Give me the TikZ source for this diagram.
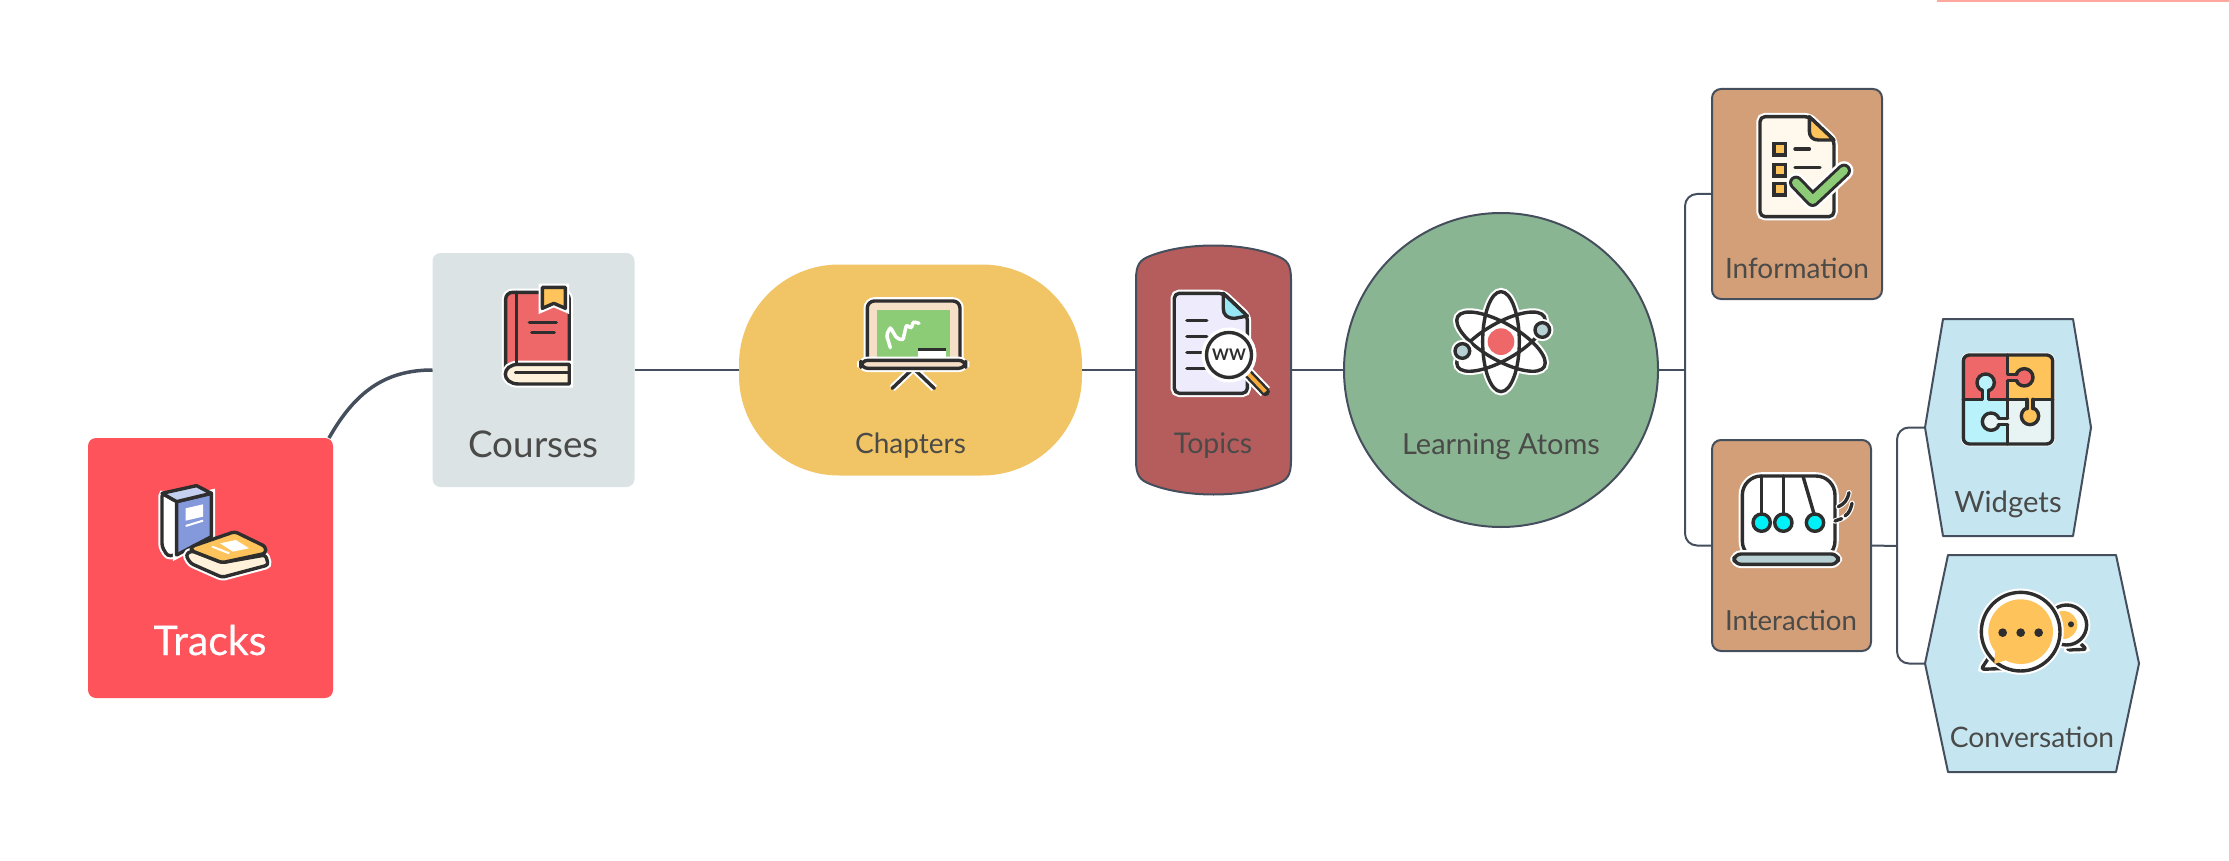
\documentclass[tikz,border=0pt]{standalone}
\usepackage{fontspec}
\setmainfont{Lato}
\newfontfamily\trackfont[FakeBold=0.4]{Lato}

\definecolor{ink}{HTML}{2E2E2E}
\definecolor{linkcol}{HTML}{454E5C}
\definecolor{textcol}{HTML}{4A4A48}
\definecolor{iconred}{HTML}{EE686A}
\definecolor{iconyellow}{HTML}{FEC35A}
\definecolor{iconcream}{HTML}{FFF1DA}
\definecolor{iconteal}{HTML}{B7D0D3}
\definecolor{puzzleblue}{HTML}{B9F2FB}
\definecolor{puzzlepale}{HTML}{E8F4F4}
\definecolor{hexblue}{HTML}{C5E6F1}

\tikzset{
    link/.style={draw=linkcol, line width=2pt},
    box/.style={rectangle, inner sep=0pt, outer sep=0pt},
    hexa/.style={fill=hexblue, draw=linkcol, line width=2pt, line join=round},
    caption/.style={anchor=base, text=textcol, inner sep=0pt, font=\fontsize{#1}{#1}\selectfont},
    icon/.style={draw=ink, line width=3.4pt, line join=round, line cap=round,
        preaction={draw=white, line width=7.5pt}},
    inkline/.style={draw=ink, line width=3.4pt, line join=round, line cap=round},
}

% hexagon around a named box, the slanted sides take #2 of its width
\newcommand{\hexoutline}[2]{
    \draw[hexa] (#1.west) -- ([xshift=#2]#1.north west) -- ([xshift=-#2]#1.north east) -- (#1.east)
        -- ([xshift=-#2]#1.south east) -- ([xshift=#2]#1.south west) -- cycle;
}

% one tab of the puzzle, from its base on the cross to the bulb
\newcommand{\puzzletab}[4]{
    \begin{scope}[shift={(#1,#2)}, rotate=#4]
        \filldraw[inkline, fill=#3] (50,0) circle (26);
        \fill[#3] (-5,-9) rectangle (34,9);
        \draw[inkline] (0,-9) -- (28,-9) (0,9) -- (28,9);
    \end{scope}
}

\begin{document}
\begin{tikzpicture}[x=1pt, y=-1pt]
    \useasboundingbox (0,0) rectangle (2229,861);

    % strip at the top edge
    \fill[fill={rgb,255:red,255;green,168;blue,158}] (1937,0) rectangle (2229,2);

    % boxes
    \node[box, fill={rgb,255:red,255;green,83;blue,92}, rounded corners=8pt, minimum width=245pt, minimum height=260pt] (tracks) at (210.5,568) {};
    \node[box, fill={rgb,255:red,219;green,227;blue,229}, rounded corners=8pt, minimum width=202pt, minimum height=234pt] (courses) at (533.5,370) {};
    \node[box, fill={rgb,255:red,241;green,196;blue,101}, rounded corners=100pt, minimum width=343pt, minimum height=211pt] (chapters) at (910.5,370) {};
    \node[box, minimum width=155pt, minimum height=248pt] (topics) at (1213.5,370) {};
    \draw[link, fill={rgb,255:red,181;green,93;blue,93}] (1136,280) .. controls (1136,264) and (1140,260) .. (1150,256)
        .. controls (1185,242) and (1242,242) .. (1277,256) .. controls (1287,260) and (1291,264) .. (1291,280)
        -- (1291,460) .. controls (1291,476) and (1287,480) .. (1277,484)
        .. controls (1242,498) and (1185,498) .. (1150,484) .. controls (1140,480) and (1136,476) .. (1136,460) -- cycle;
    \node[circle, inner sep=0pt, outer sep=0pt, minimum size=314pt, fill={rgb,255:red,138;green,181;blue,146}, draw=linkcol, line width=2pt] (atoms) at (1501,370) {};
    \node[box, fill={rgb,255:red,211;green,159;blue,120}, draw=linkcol, line width=2pt, rounded corners=9pt, minimum width=170pt, minimum height=210pt] (information) at (1797,194) {};
    \node[box, fill={rgb,255:red,211;green,159;blue,120}, draw=linkcol, line width=2pt, rounded corners=9pt, minimum width=159pt, minimum height=211pt] (interaction) at (1791.5,545.5) {};
    \node[box, minimum width=166pt, minimum height=217pt] (widgets) at (2008,427.5) {};
    \node[box, minimum width=214pt, minimum height=217pt] (conversation) at (2032,663.5) {};
    \hexoutline{widgets}{18pt}
    \hexoutline{conversation}{23pt}

    % connectors
    \coordinate (forkone) at (1685,370);
    \coordinate (forktwo) at (1897,546);
    \draw[draw=linkcol, line width=3.5pt] ([xshift=-4pt]tracks.north east) .. controls (355,392) and (385,370) .. (courses.west);
    \draw[link] (courses) -- (chapters);
    \draw[link] (chapters) -- (topics);
    \draw[link] (topics) -- (atoms);
    \draw[link] (atoms) -- (forkone);
    \draw[link, rounded corners=12pt] (information.west) -| (forkone);
    \draw[link, rounded corners=12pt] (interaction.west) -| (forkone);
    \draw[link] (interaction.east) -- (forktwo);
    \draw[link, rounded corners=12pt] (widgets.west) -| (forktwo);
    \draw[link, rounded corners=12pt] (conversation.west) -| (forktwo);

    % captions
    \node[caption=41, text=white, font=\trackfont\fontsize{41}{41}\selectfont] (trackstext) at (210,655) {Tracks};
    \node[caption=36.8] (coursestext) at (533.5,457) {Courses};
    \node[caption=28] (chapterstext) at (910.5,453) {Chapters};
    \node[caption=28.5] (topicstext) at (1213,453) {Topics};
    \node[caption=29] (atomstext) at (1501,454) {Learning Atoms};
    \node[caption=28] (informationtext) at (1797,278) {Information};
    \node[caption=27.6] (interactiontext) at (1791,630) {Interaction};
    \node[caption=29.3] (widgetstext) at (2008,512) {Widgets};
    \node[caption=28.2] (conversationtext) at (2032,747) {Conversation};

    % icon: two books
    \begin{scope}[shift={(60,230)}, x=0.3954pt, y=-0.3333pt]
        \filldraw[icon, fill=white, rounded corners=3pt] (258,790) -- (295,815) -- (295,975) -- (272,978) -- (258,950) -- cycle;
        \filldraw[icon, fill={rgb,255:red,132;green,153;blue,220}] (295,815) -- (383,790) -- (383,920) -- (295,975) -- cycle;
        \filldraw[inkline, fill={rgb,255:red,197;green,208;blue,240}] (258,790) -- (345,767) -- (383,790) -- (295,815) -- cycle;
        \fill[white] (318,835) -- (362,823) -- (362,860) -- (318,872) -- cycle;
        \draw[white, line width=2pt] (318,888) -- (362,872);
        \filldraw[icon, fill=iconcream, rounded corners=3pt] (332,962) -- (318,975) -- (330,1000) -- (410,1042) -- (527,1005) -- (520,975) -- (410,998) -- cycle;
        \filldraw[inkline, fill=iconyellow, rounded corners=3pt] (332,950) -- (442,905) -- (520,950) -- (520,970) -- (410,998) -- (332,962) -- cycle;
        \fill[white] (405,940) -- (445,930) -- (478,955) -- (437,965) -- cycle;
        \draw[white, line width=2pt] (385,950) -- (428,970);
    \end{scope}

    % icon: book with bookmark
    \begin{scope}[shift={(60,230)}, x=0.3954pt, y=-0.3333pt]
        \filldraw[icon, fill=iconred, rounded corners=7pt] (1127,440) -- (1127,187) -- (1288,187) -- (1288,420) -- cycle;
        \filldraw[icon, fill=iconcream] (1288,403) -- (1160,403) .. controls (1115,403) and (1115,462) .. (1160,462) -- (1288,462) -- cycle;
        \draw[inkline] (1155,187) -- (1155,403);
        \draw[inkline] (1152,428) -- (1288,428);
        \filldraw[icon, fill=iconyellow] (1220,172) -- (1278,172) -- (1278,235) -- (1249,220) -- (1220,235) -- cycle;
        \draw[inkline] (1187,277) -- (1255,277);
        \draw[inkline] (1193,308) -- (1250,308);
    \end{scope}

    % icon: board on a stand
    \begin{scope}[shift={(720,240)}, x=0.3827pt, y=-0.3333pt]
        \draw[icon] (505,385) -- (450,445);
        \draw[icon] (505,385) -- (560,445);
        \filldraw[icon, fill={rgb,255:red,245;green,223;blue,199}, rounded corners=7pt] (385,372) -- (385,183) -- (627,183) -- (627,372) -- cycle;
        \fill[fill={rgb,255:red,140;green,204;blue,119}] (409,210) rectangle (602,358);
        \draw[white, line width=3.5pt, line cap=round, rounded corners=2pt] (445,323) -- (435,285) -- (445,262) -- (462,295) -- (478,300) -- (487,255) -- (500,265) -- (505,245) -- (520,250);
        \fill[white] (517,330) rectangle (590,358);
        \draw[draw=ink, line width=2.6pt] (517,328) -- (590,328);
        \filldraw[icon, fill={rgb,255:red,245;green,223;blue,199}, rounded corners=7pt] (368,361) rectangle (642,385);
    \end{scope}

    % icon: page and magnifier
    \begin{scope}[shift={(720,240)}, x=0.3827pt, y=-0.3333pt]
        \filldraw[icon, fill={rgb,255:red,238;green,235;blue,252}, rounded corners=5pt] (1187,160) -- (1315,160) -- (1378,228) -- (1378,460) -- (1187,460) -- cycle;
        \filldraw[inkline, fill={rgb,255:red,150;green,230;blue,245}] (1315,160) -- (1378,228) -- (1345,235) .. controls (1325,235) and (1315,225) .. (1315,205) -- cycle;
        \foreach \rowy in {242,290,338,386}
            \draw[inkline] (1220,\rowy) -- (1272,\rowy);
        \draw[draw=ink, line width=9pt, line cap=round, preaction={draw=white, line width=13pt}] (1375,395) -- (1425,455);
        \draw[draw={rgb,255:red,245;green,170;blue,60}, line width=4pt] (1375,395) -- (1425,455);
        \node[circle, inner sep=0pt, minimum width=45pt, fill=white, draw=ink, line width=3.4pt, preaction={draw=white, line width=10pt},
            font=\fontsize{16}{16}\selectfont\bfseries, text=ink] (lens) at (1330,345) {WW};
    \end{scope}

    % icon: atom
    \begin{scope}[shift={(1320,200)}, x=0.3333pt, y=-0.3333pt]
        \foreach \tilt in {60,-60,0}
            \path[draw=white, line width=7.5pt, fill=white, rotate around={\tilt:(543,425)}] (543,425) ellipse [x radius=55, y radius=150];
        \foreach \tilt in {60,-60,0}
            \draw[inkline, rotate around={\tilt:(543,425)}] (543,425) ellipse [x radius=55, y radius=150];
        \fill[iconred] (543,425) circle (40);
        \filldraw[icon, fill=iconteal] (667,390) circle (22);
        \filldraw[icon, fill=iconteal] (427,453) circle (22);
    \end{scope}

    % icon: checklist
    \begin{scope}[shift={(1660,60)}, x=0.3333pt, y=-0.3333pt]
        \filldraw[icon, fill={rgb,255:red,255;green,248;blue,236}, rounded corners=5pt] (300,170) -- (448,170) -- (522,240) -- (522,470) -- (300,470) -- cycle;
        \filldraw[inkline, fill=iconyellow] (448,170) -- (522,240) -- (475,240) .. controls (458,240) and (448,230) .. (448,213) -- cycle;
        \foreach \rowy in {250,313,370}
            \filldraw[inkline, fill=iconyellow, line cap=butt, line join=miter] (342,\rowy) rectangle (377,\rowy+35);
        \draw[inkline] (405,267) -- (448,267);
        \draw[inkline] (405,323) -- (480,323);
        \draw[draw=white, line width=19pt, line cap=round, line join=round] (408,368) -- (458,420) -- (552,332);
        \draw[draw=ink, line width=14pt, line cap=round, line join=round] (408,368) -- (458,420) -- (552,332);
        \draw[draw={rgb,255:red,140;green,204;blue,119}, line width=8pt, line cap=round, line join=round] (408,368) -- (458,420) -- (552,332);
    \end{scope}

    % icon: pendulum
    \begin{scope}[shift={(1660,420)}, x=0.3333pt, y=-0.3333pt]
        \filldraw[icon, fill=white, rounded corners=19pt] (247,420) -- (247,168) -- (525,168) -- (525,420) -- cycle;
        \filldraw[icon, fill=iconteal, rounded corners=7pt] (222,402) rectangle (535,433);
        \draw[inkline] (305,168) -- (305,285);
        \draw[inkline] (370,168) -- (370,285);
        \draw[inkline] (430,172) -- (463,285);
        \foreach \ballx in {305,370,465}
            \filldraw[inkline, fill={rgb,255:red,0;green,240;blue,248}] (\ballx,308) circle (26);
        \draw[inkline, white, line width=5.5pt] (535,260) .. controls (555,250) and (562,240) .. (567,218);
        \draw[inkline] (535,260) .. controls (555,250) and (562,240) .. (567,218);
        \draw[inkline, white, line width=5.5pt] (525,303) .. controls (555,295) and (572,280) .. (576,250);
        \draw[inkline] (525,303) -- (545,296) (555,288) .. controls (568,278) and (572,268) .. (576,250);
    \end{scope}

    % icon: puzzle
    \begin{scope}[shift={(1880,300)}, x=0.3333pt, y=-0.3333pt]
        \fill[white, rounded corners=8pt] (243,158) rectangle (525,439);
        \begin{scope}
            \clip[rounded corners=6pt] (250,165) rectangle (518,432);
            \fill[iconred] (250,165) rectangle (383,298);
            \fill[iconyellow] (383,165) rectangle (518,298);
            \fill[puzzleblue] (250,298) rectangle (383,432);
            \fill[puzzlepale] (383,298) rectangle (518,432);
        \end{scope}
        \draw[inkline] (383,165) -- (383,432);
        \draw[inkline] (250,298) -- (518,298);
        \puzzletab{383}{232}{iconred}{0}
        \puzzletab{317}{298}{puzzleblue}{90}
        \puzzletab{450}{298}{iconyellow}{-90}
        \puzzletab{383}{365}{puzzlepale}{180}
        \draw[inkline, rounded corners=6pt] (250,165) rectangle (518,432);
    \end{scope}

    % icon: speech bubbles
    \begin{scope}[shift={(1880,540)}, x=0.3333pt, y=-0.3333pt]
        \filldraw[icon, fill=white, rounded corners=3pt] (580,290) -- (620,328) -- (560,330) -- cycle;
        \filldraw[icon, fill=white] (560,255) circle (60);
        \fill[iconyellow] (550,255) circle (42);
        \fill[ink] (573,253) circle (9);
        \fill[ink] (540,253) circle (9);
        \filldraw[icon, fill=white, rounded corners=3pt] (335,340) -- (303,388) -- (385,385) -- cycle;
        \filldraw[icon, fill=white] (422,275) circle (118);
        \fill[iconyellow] (422,275) circle (97);
        \fill[iconyellow] (345,335) -- (343,372) -- (385,358) -- cycle;
        \foreach \dotx in {368,422,476}
            \fill[ink] (\dotx,278) circle (13);
    \end{scope}
\end{tikzpicture}
\end{document}
